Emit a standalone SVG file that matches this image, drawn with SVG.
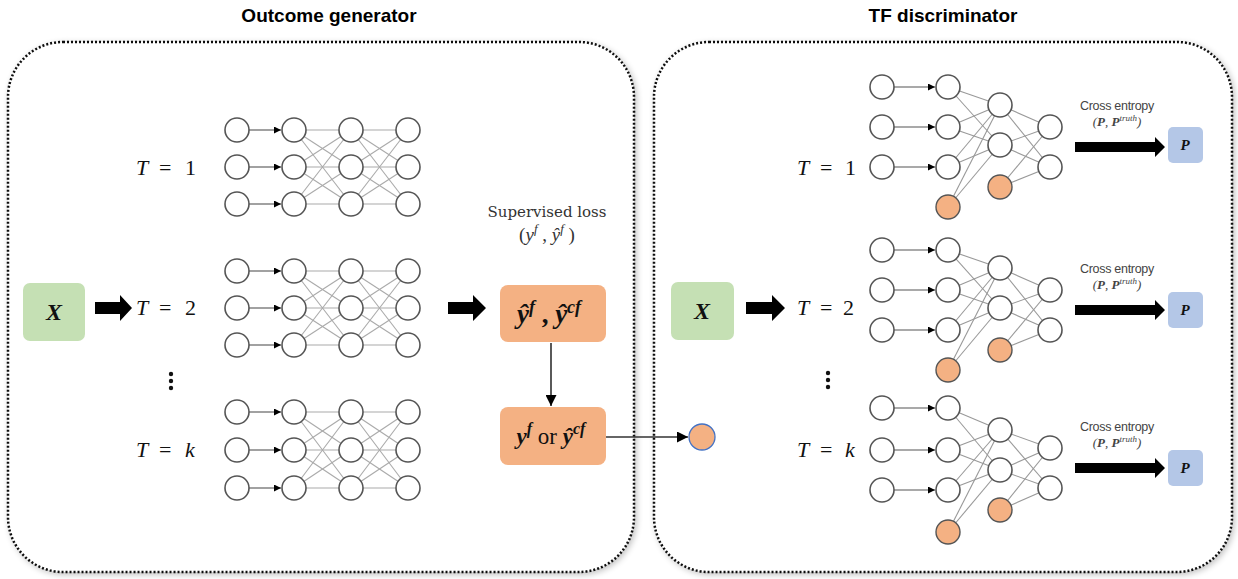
<svg xmlns="http://www.w3.org/2000/svg" width="1238" height="579" viewBox="0 0 1238 579">
<defs>
<style>
.panel{fill:#fff;stroke:#111;stroke-width:2.5;stroke-dasharray:2 2}
.title{font-family:"Liberation Sans",Arial,sans-serif;font-weight:bold;font-size:19px;fill:#000}
.n{fill:#fff;stroke:#555;stroke-width:1.6}
.b{fill:#f4b183;stroke:#555;stroke-width:1.4}
.w{stroke:#aaa;stroke-width:1.1}
.a{stroke:#555;stroke-width:1.1;marker-end:url(#ah)}
.m{font-family:"Liberation Serif","Times New Roman",serif;font-size:22px;fill:#111}
.i{font-style:italic}
.ce{font-family:"Liberation Sans",Arial,sans-serif;font-size:12.5px;fill:#444;text-anchor:middle;letter-spacing:-0.3px}
.cs{font-family:"Liberation Serif",serif;font-size:13px;fill:#444;text-anchor:middle;font-style:italic}
.pb{fill:#b4c7e7}
.pt{font-family:"Liberation Serif",serif;font-weight:bold;font-style:italic;font-size:15px;fill:#111;text-anchor:middle}
.ob{fill:#f4b183}
.xb{fill:#c5e0b4}
.big{fill:#000}
</style>
<marker id="ah" viewBox="0 0 10 10" refX="10" refY="5" markerWidth="7" markerHeight="7" orient="auto" markerUnits="userSpaceOnUse"><path d="M0,0 L10,5 L0,10 z" fill="#000"/></marker>
<marker id="ah2" viewBox="0 0 10 10" refX="10" refY="5" markerWidth="11" markerHeight="11" orient="auto" markerUnits="userSpaceOnUse"><path d="M0,0 L10,5 L0,10 z" fill="#000"/></marker>
<filter id="sh" x="-5%" y="-5%" width="110%" height="110%"><feGaussianBlur in="SourceAlpha" stdDeviation="3"/><feOffset dx="2" dy="2"/><feComponentTransfer><feFuncA type="linear" slope="0.25"/></feComponentTransfer><feMerge><feMergeNode/><feMergeNode in="SourceGraphic"/></feMerge></filter>
</defs>
<rect width="1238" height="579" fill="#fff"/>

<g id="panel-generator">
<rect class="panel" x="8" y="42" width="626" height="530" rx="55" filter="url(#sh)"/>
<text class="title" x="329" y="22" text-anchor="middle">Outcome generator</text>
</g>
<g id="panel-discriminator">
<rect class="panel" x="654" y="42" width="578" height="530" rx="55" filter="url(#sh)"/>
<text class="title" x="943" y="22" text-anchor="middle">TF discriminator</text>
</g>

<g id="connectors">
<line class="a" x1="249" y1="130" x2="281" y2="130"/><line class="a" x1="249" y1="167" x2="281" y2="167"/><line class="a" x1="249" y1="204" x2="281" y2="204"/>
<line class="a" x1="249" y1="271" x2="281" y2="271"/><line class="a" x1="249" y1="308" x2="281" y2="308"/><line class="a" x1="249" y1="345" x2="281" y2="345"/>
<line class="a" x1="249" y1="412" x2="281" y2="412"/><line class="a" x1="249" y1="450" x2="281" y2="450"/><line class="a" x1="249" y1="488" x2="281" y2="488"/>
<g class="w">
<line x1="294" y1="130" x2="351" y2="130"/><line x1="294" y1="130" x2="351" y2="167"/><line x1="294" y1="130" x2="351" y2="204"/>
<line x1="294" y1="167" x2="351" y2="130"/><line x1="294" y1="167" x2="351" y2="167"/><line x1="294" y1="167" x2="351" y2="204"/>
<line x1="294" y1="204" x2="351" y2="130"/><line x1="294" y1="204" x2="351" y2="167"/><line x1="294" y1="204" x2="351" y2="204"/>
<line x1="351" y1="130" x2="408" y2="130"/><line x1="351" y1="130" x2="408" y2="167"/><line x1="351" y1="130" x2="408" y2="204"/>
<line x1="351" y1="167" x2="408" y2="130"/><line x1="351" y1="167" x2="408" y2="167"/><line x1="351" y1="167" x2="408" y2="204"/>
<line x1="351" y1="204" x2="408" y2="130"/><line x1="351" y1="204" x2="408" y2="167"/><line x1="351" y1="204" x2="408" y2="204"/>
<line x1="294" y1="271" x2="351" y2="271"/><line x1="294" y1="271" x2="351" y2="308"/><line x1="294" y1="271" x2="351" y2="345"/>
<line x1="294" y1="308" x2="351" y2="271"/><line x1="294" y1="308" x2="351" y2="308"/><line x1="294" y1="308" x2="351" y2="345"/>
<line x1="294" y1="345" x2="351" y2="271"/><line x1="294" y1="345" x2="351" y2="308"/><line x1="294" y1="345" x2="351" y2="345"/>
<line x1="351" y1="271" x2="408" y2="271"/><line x1="351" y1="271" x2="408" y2="308"/><line x1="351" y1="271" x2="408" y2="345"/>
<line x1="351" y1="308" x2="408" y2="271"/><line x1="351" y1="308" x2="408" y2="308"/><line x1="351" y1="308" x2="408" y2="345"/>
<line x1="351" y1="345" x2="408" y2="271"/><line x1="351" y1="345" x2="408" y2="308"/><line x1="351" y1="345" x2="408" y2="345"/>
<line x1="294" y1="412" x2="351" y2="412"/><line x1="294" y1="412" x2="351" y2="450"/><line x1="294" y1="412" x2="351" y2="488"/>
<line x1="294" y1="450" x2="351" y2="412"/><line x1="294" y1="450" x2="351" y2="450"/><line x1="294" y1="450" x2="351" y2="488"/>
<line x1="294" y1="488" x2="351" y2="412"/><line x1="294" y1="488" x2="351" y2="450"/><line x1="294" y1="488" x2="351" y2="488"/>
<line x1="351" y1="412" x2="408" y2="412"/><line x1="351" y1="412" x2="408" y2="450"/><line x1="351" y1="412" x2="408" y2="488"/>
<line x1="351" y1="450" x2="408" y2="412"/><line x1="351" y1="450" x2="408" y2="450"/><line x1="351" y1="450" x2="408" y2="488"/>
<line x1="351" y1="488" x2="408" y2="412"/><line x1="351" y1="488" x2="408" y2="450"/><line x1="351" y1="488" x2="408" y2="488"/>
</g>
<line class="a" x1="894" y1="87" x2="935" y2="87"/><line class="a" x1="894" y1="127" x2="935" y2="127"/><line class="a" x1="894" y1="167" x2="935" y2="167"/>
<line class="a" x1="894" y1="250" x2="935" y2="250"/><line class="a" x1="894" y1="290" x2="935" y2="290"/><line class="a" x1="894" y1="330" x2="935" y2="330"/>
<line class="a" x1="894" y1="408" x2="935" y2="408"/><line class="a" x1="894" y1="450" x2="935" y2="450"/><line class="a" x1="894" y1="490" x2="935" y2="490"/>
<g class="w" style="stroke:#999">
<line x1="948" y1="87" x2="1000" y2="105"/><line x1="948" y1="87" x2="1000" y2="145"/>
<line x1="948" y1="127" x2="1000" y2="105"/><line x1="948" y1="127" x2="1000" y2="145"/>
<line x1="948" y1="167" x2="1000" y2="105"/><line x1="948" y1="167" x2="1000" y2="145"/>
<line x1="948" y1="207" x2="1000" y2="105"/><line x1="948" y1="207" x2="1000" y2="145"/>
<line x1="1000" y1="105" x2="1050" y2="127"/><line x1="1000" y1="105" x2="1050" y2="167"/>
<line x1="1000" y1="145" x2="1050" y2="127"/><line x1="1000" y1="145" x2="1050" y2="167"/>
<line x1="1000" y1="187" x2="1050" y2="127"/><line x1="1000" y1="187" x2="1050" y2="167"/>
<line x1="948" y1="250" x2="1000" y2="268"/><line x1="948" y1="250" x2="1000" y2="308"/>
<line x1="948" y1="290" x2="1000" y2="268"/><line x1="948" y1="290" x2="1000" y2="308"/>
<line x1="948" y1="330" x2="1000" y2="268"/><line x1="948" y1="330" x2="1000" y2="308"/>
<line x1="948" y1="370" x2="1000" y2="268"/><line x1="948" y1="370" x2="1000" y2="308"/>
<line x1="1000" y1="268" x2="1050" y2="290"/><line x1="1000" y1="268" x2="1050" y2="330"/>
<line x1="1000" y1="308" x2="1050" y2="290"/><line x1="1000" y1="308" x2="1050" y2="330"/>
<line x1="1000" y1="350" x2="1050" y2="290"/><line x1="1000" y1="350" x2="1050" y2="330"/>
<line x1="948" y1="408" x2="1000" y2="430"/><line x1="948" y1="408" x2="1000" y2="470"/>
<line x1="948" y1="450" x2="1000" y2="430"/><line x1="948" y1="450" x2="1000" y2="470"/>
<line x1="948" y1="490" x2="1000" y2="430"/><line x1="948" y1="490" x2="1000" y2="470"/>
<line x1="948" y1="532" x2="1000" y2="430"/><line x1="948" y1="532" x2="1000" y2="470"/>
<line x1="1000" y1="430" x2="1050" y2="448"/><line x1="1000" y1="430" x2="1050" y2="488"/>
<line x1="1000" y1="470" x2="1050" y2="448"/><line x1="1000" y1="470" x2="1050" y2="488"/>
<line x1="1000" y1="510" x2="1050" y2="448"/><line x1="1000" y1="510" x2="1050" y2="488"/>
</g>
<polygon class="big" points="95,302 120,302 120,295 132,308 120,321 120,314 95,314"/>
<polygon class="big" points="448,302 473,302 473,295 486,308 473,321 473,314 448,314"/>
<polygon class="big" points="746,302 772,302 772,295 785,308 772,321 772,314 746,314"/>
<polygon class="big" points="1075,142 1155,142 1155,137 1165,147 1155,157 1155,152 1075,152"/>
<polygon class="big" points="1075,305 1155,305 1155,300 1165,310 1155,320 1155,315 1075,315"/>
<polygon class="big" points="1075,463 1155,463 1155,458 1165,468 1155,478 1155,473 1075,473"/>
<line x1="551" y1="343" x2="551" y2="406" stroke="#000" stroke-width="1.3" marker-end="url(#ah2)"/>
<line x1="606" y1="437" x2="688" y2="437" stroke="#333" stroke-width="1.3" marker-end="url(#ah2)"/>
</g>

<g id="gen-nets">
<circle class="n" cx="237" cy="130" r="12"/><circle class="n" cx="237" cy="167" r="12"/><circle class="n" cx="237" cy="204" r="12"/>
<circle class="n" cx="294" cy="130" r="12"/><circle class="n" cx="294" cy="167" r="12"/><circle class="n" cx="294" cy="204" r="12"/>
<circle class="n" cx="351" cy="130" r="12"/><circle class="n" cx="351" cy="167" r="12"/><circle class="n" cx="351" cy="204" r="12"/>
<circle class="n" cx="408" cy="130" r="12"/><circle class="n" cx="408" cy="167" r="12"/><circle class="n" cx="408" cy="204" r="12"/>
<circle class="n" cx="237" cy="271" r="12"/><circle class="n" cx="237" cy="308" r="12"/><circle class="n" cx="237" cy="345" r="12"/>
<circle class="n" cx="294" cy="271" r="12"/><circle class="n" cx="294" cy="308" r="12"/><circle class="n" cx="294" cy="345" r="12"/>
<circle class="n" cx="351" cy="271" r="12"/><circle class="n" cx="351" cy="308" r="12"/><circle class="n" cx="351" cy="345" r="12"/>
<circle class="n" cx="408" cy="271" r="12"/><circle class="n" cx="408" cy="308" r="12"/><circle class="n" cx="408" cy="345" r="12"/>
<circle class="n" cx="237" cy="412" r="12"/><circle class="n" cx="237" cy="450" r="12"/><circle class="n" cx="237" cy="488" r="12"/>
<circle class="n" cx="294" cy="412" r="12"/><circle class="n" cx="294" cy="450" r="12"/><circle class="n" cx="294" cy="488" r="12"/>
<circle class="n" cx="351" cy="412" r="12"/><circle class="n" cx="351" cy="450" r="12"/><circle class="n" cx="351" cy="488" r="12"/>
<circle class="n" cx="408" cy="412" r="12"/><circle class="n" cx="408" cy="450" r="12"/><circle class="n" cx="408" cy="488" r="12"/>
<text class="m" y="175"><tspan class="i" x="136">T</tspan><tspan x="159">=</tspan><tspan x="185">1</tspan></text>
<text class="m" y="315"><tspan class="i" x="136">T</tspan><tspan x="159">=</tspan><tspan x="185">2</tspan></text>
<text class="m" y="457"><tspan class="i" x="136">T</tspan><tspan x="159">=</tspan><tspan class="i" x="185">k</tspan></text>
<circle cx="171" cy="374" r="2.2" fill="#111"/><circle cx="171" cy="381" r="2.2" fill="#111"/><circle cx="171" cy="388" r="2.2" fill="#111"/>
</g>

<g id="gen-x">
<rect class="xb" x="23" y="283" width="62" height="58" rx="7"/>
<text x="54" y="320" text-anchor="middle" font-family="Liberation Serif,serif" font-weight="bold" font-style="italic" font-size="24" fill="#111">X</text>
</g>

<g id="supervised-label">
<text x="547" y="217" text-anchor="middle" font-family="DejaVu Serif,serif" font-size="15" fill="#333">Supervised loss</text>
<text x="547" y="241" text-anchor="middle" font-family="Liberation Serif,serif" font-size="19" fill="#333">(<tspan font-style="italic">y</tspan><tspan font-style="italic" font-size="13" dy="-8">f</tspan><tspan dy="8"> , </tspan><tspan font-style="italic">ŷ</tspan><tspan font-style="italic" font-size="13" dy="-8">f</tspan><tspan dy="8"> )</tspan></text>
</g>

<g id="pred-box">
<rect class="ob" x="500" y="285" width="106" height="57" rx="8"/>
<text x="549" y="323" text-anchor="middle" font-family="Liberation Serif,serif" font-weight="bold" font-style="italic" font-size="27" fill="#111">ŷ<tspan font-size="18" dy="-10">f</tspan><tspan dy="10" font-style="normal"> , </tspan>ŷ<tspan font-size="18" dy="-10">cf</tspan></text>
</g>

<g id="select-box">
<rect class="ob" x="500" y="407" width="106" height="58" rx="8"/>
<text x="551" y="444" text-anchor="middle" font-family="Liberation Serif,serif" font-size="23" fill="#111"><tspan font-weight="bold" font-style="italic">y</tspan><tspan font-weight="bold" font-style="italic" font-size="16" dy="-10">f</tspan><tspan dy="10"> or </tspan><tspan font-weight="bold" font-style="italic">ŷ</tspan><tspan font-weight="bold" font-style="italic" font-size="16" dy="-10">cf</tspan></text>
</g>

<g id="treatment-node">
<circle cx="702" cy="437" r="13" fill="#f4b183" stroke="#4472c4" stroke-width="1.3"/>
</g>

<g id="disc-x">
<rect class="xb" x="671" y="282" width="63" height="58" rx="7"/>
<text x="702" y="319" text-anchor="middle" font-family="Liberation Serif,serif" font-weight="bold" font-style="italic" font-size="24" fill="#111">X</text>
</g>

<g id="disc-nets">
<circle class="n" cx="882" cy="87" r="12"/><circle class="n" cx="882" cy="127" r="12"/><circle class="n" cx="882" cy="167" r="12"/>
<circle class="n" cx="948" cy="87" r="12"/><circle class="n" cx="948" cy="127" r="12"/><circle class="n" cx="948" cy="167" r="12"/><circle class="b" cx="948" cy="207" r="12"/>
<circle class="n" cx="1000" cy="105" r="12"/><circle class="n" cx="1000" cy="145" r="12"/><circle class="b" cx="1000" cy="187" r="12"/>
<circle class="n" cx="1050" cy="127" r="12"/><circle class="n" cx="1050" cy="167" r="12"/>
<circle class="n" cx="882" cy="250" r="12"/><circle class="n" cx="882" cy="290" r="12"/><circle class="n" cx="882" cy="330" r="12"/>
<circle class="n" cx="948" cy="250" r="12"/><circle class="n" cx="948" cy="290" r="12"/><circle class="n" cx="948" cy="330" r="12"/><circle class="b" cx="948" cy="370" r="12"/>
<circle class="n" cx="1000" cy="268" r="12"/><circle class="n" cx="1000" cy="308" r="12"/><circle class="b" cx="1000" cy="350" r="12"/>
<circle class="n" cx="1050" cy="290" r="12"/><circle class="n" cx="1050" cy="330" r="12"/>
<circle class="n" cx="882" cy="408" r="12"/><circle class="n" cx="882" cy="450" r="12"/><circle class="n" cx="882" cy="490" r="12"/>
<circle class="n" cx="948" cy="408" r="12"/><circle class="n" cx="948" cy="450" r="12"/><circle class="n" cx="948" cy="490" r="12"/><circle class="b" cx="948" cy="532" r="12"/>
<circle class="n" cx="1000" cy="430" r="12"/><circle class="n" cx="1000" cy="470" r="12"/><circle class="b" cx="1000" cy="510" r="12"/>
<circle class="n" cx="1050" cy="448" r="12"/><circle class="n" cx="1050" cy="488" r="12"/>
<text class="m" y="175"><tspan class="i" x="797">T</tspan><tspan x="820">=</tspan><tspan x="845">1</tspan></text>
<text class="m" y="315"><tspan class="i" x="797">T</tspan><tspan x="820">=</tspan><tspan x="843">2</tspan></text>
<text class="m" y="457"><tspan class="i" x="797">T</tspan><tspan x="820">=</tspan><tspan class="i" x="845">k</tspan></text>
<circle cx="828" cy="373" r="2.2" fill="#111"/><circle cx="828" cy="380" r="2.2" fill="#111"/><circle cx="828" cy="387" r="2.2" fill="#111"/>
</g>

<g id="disc-outputs">
<text class="ce" x="1117" y="110">Cross entropy</text>
<text class="cs" x="1117" y="126">(<tspan font-weight="bold">P</tspan>, <tspan font-weight="bold">P</tspan><tspan font-size="9" dy="-5">truth</tspan><tspan dy="5">)</tspan></text>
<rect class="pb" x="1168" y="127" width="35" height="36" rx="5"/>
<text class="pt" x="1185" y="150">P</text>
<text class="ce" x="1117" y="273">Cross entropy</text>
<text class="cs" x="1117" y="289">(<tspan font-weight="bold">P</tspan>, <tspan font-weight="bold">P</tspan><tspan font-size="9" dy="-5">truth</tspan><tspan dy="5">)</tspan></text>
<rect class="pb" x="1168" y="292" width="35" height="36" rx="5"/>
<text class="pt" x="1185" y="315">P</text>
<text class="ce" x="1117" y="431">Cross entropy</text>
<text class="cs" x="1117" y="447">(<tspan font-weight="bold">P</tspan>, <tspan font-weight="bold">P</tspan><tspan font-size="9" dy="-5">truth</tspan><tspan dy="5">)</tspan></text>
<rect class="pb" x="1168" y="450" width="35" height="36" rx="5"/>
<text class="pt" x="1185" y="473">P</text>
</g>
</svg>
